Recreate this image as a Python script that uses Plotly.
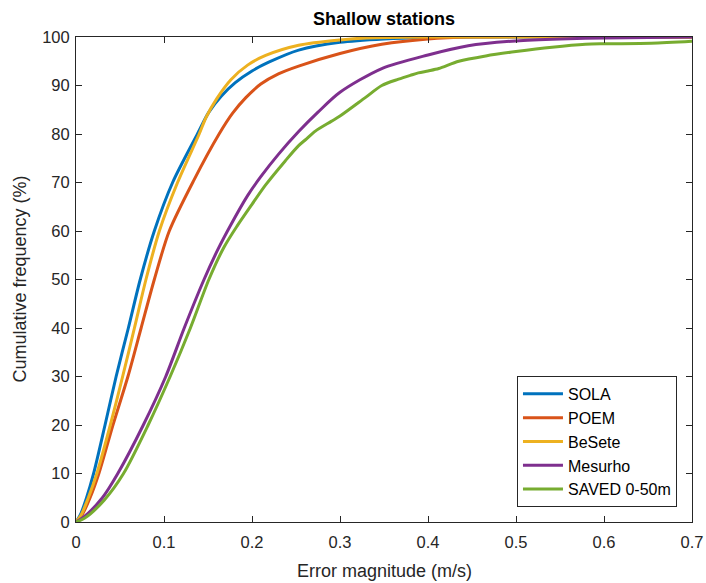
import plotly.graph_objects as go

# ---- data ----
sola_x = [0, 0.005, 0.012, 0.020, 0.033, 0.0456, 0.0595, 0.073, 0.089, 0.1098, 0.138, 0.151,
          0.165, 0.181, 0.200, 0.219, 0.253, 0.300, 0.350, 0.400, 0.500, 0.700]
sola_y = [0, 1.5, 5, 10, 20, 30, 40, 50, 60, 70, 80, 84.5,
          87.8, 90.6, 93.0, 94.8, 97.3, 98.9, 99.6, 99.9, 100, 100]

poem_x = [0, 0.007, 0.016, 0.026, 0.042, 0.059, 0.074, 0.089, 0.106, 0.134, 0.1626,
          0.178, 0.193, 0.210, 0.230, 0.253, 0.300, 0.3475, 0.400, 0.450, 0.700]
poem_y = [0, 1.5, 5, 10, 20, 30, 40, 50, 60, 70.5, 80,
          84.3, 87.5, 90.3, 92.4, 94.0, 96.6, 98.5, 99.6, 100, 100]

besete_x = [0, 0.006, 0.014, 0.0237, 0.039, 0.053, 0.0664, 0.0795, 0.0947, 0.1154, 0.140, 0.148,
            0.160, 0.176, 0.195, 0.2155, 0.253, 0.300, 0.330, 0.400, 0.700]
besete_y = [0, 1.5, 5, 10, 20, 30, 40, 50, 60, 70, 80, 83.5,
            87.3, 91.2, 94.2, 96.2, 98.3, 99.4, 99.8, 100, 100]

mesurho_x = [0, 0.010, 0.030, 0.0475, 0.0765, 0.102, 0.123, 0.1455, 0.1607, 0.176, 0.195,
             0.210, 0.230, 0.253, 0.275, 0.300, 0.3475, 0.400, 0.4457, 0.500, 0.550, 0.600, 0.700]
mesurho_y = [0, 1.2, 5, 10, 20, 30, 40, 50, 56.0, 61.3, 67.3,
             71.2, 75.8, 80.5, 84.5, 88.6, 93.5, 96.3, 98.2, 99.2, 99.6, 99.8, 100]

saved_x = [0, 0.010, 0.032, 0.054, 0.082, 0.107, 0.130, 0.151, 0.168, 0.183, 0.200,
           0.2155, 0.238, 0.253, 0.262, 0.272, 0.290, 0.300, 0.3287, 0.3475, 0.3665, 0.380,
           0.389, 0.400, 0.4123, 0.435, 0.4657, 0.500, 0.541, 0.579, 0.600, 0.6535, 0.700]
saved_y = [0, 0.8, 4.5, 10, 20, 30, 40, 50, 56.6, 61, 65.5,
           69.5, 74.5, 77.6, 79.0, 80.6, 82.6, 83.7, 87.5, 90, 91.3, 92.1,
           92.6, 93, 93.5, 95, 96.1, 97, 97.9, 98.5, 98.6, 98.7, 99.1]

series_names = ["SOLA", "POEM", "BeSete", "Mesurho", "SAVED 0-50m"]
series_x = [sola_x, poem_x, besete_x, mesurho_x, saved_x]
series_y = [sola_y, poem_y, besete_y, mesurho_y, saved_y]
series_colors = ["#0072BD", "#D95319", "#EDB120", "#7E2F8E", "#77AC30"]

x_ticks = [0, 0.1, 0.2, 0.3, 0.4, 0.5, 0.6, 0.7]
x_tick_labels = ["0", "0.1", "0.2", "0.3", "0.4", "0.5", "0.6", "0.7"]
y_ticks = [0, 10, 20, 30, 40, 50, 60, 70, 80, 90, 100]
y_tick_labels = [str(v) for v in y_ticks]

FONT = "Liberation Sans, Arial, sans-serif"
AX = "#262626"

fig = go.Figure()
for name, xs, ys, col in zip(series_names, series_x, series_y, series_colors):
    fig.add_trace(go.Scatter(x=xs, y=ys, mode="lines", name=name,
                             line=dict(color=col, width=3, shape="spline", smoothing=0.8)))

axis_common = dict(showgrid=False, zeroline=False, showline=True, linecolor=AX,
                   linewidth=1, mirror="ticks", ticks="inside", ticklen=6,
                   tickcolor=AX, tickwidth=1, automargin=False,
                   tickfont=dict(family=FONT, size=16.5, color=AX))

fig.update_xaxes(range=[0, 0.7], tickvals=x_ticks, ticktext=x_tick_labels,
                 ticklabelstandoff=5, **axis_common)
fig.update_yaxes(range=[0, 100], tickvals=y_ticks, ticktext=y_tick_labels,
                 ticklabelstandoff=2, **axis_common)

# axis titles placed to match the reference positions
fig.add_annotation(text="Error magnitude (m/s)", xref="paper", yref="paper",
                   x=0.5, y=-(571 - 522) / 485, xanchor="center", yanchor="middle",
                   showarrow=False, font=dict(family=FONT, size=18, color=AX))
fig.add_annotation(text="Cumulative frequency (%)", xref="paper", yref="paper",
                   x=-(76 - 19) / 616, y=0.5, xanchor="center", yanchor="middle",
                   textangle=-90, showarrow=False, font=dict(family=FONT, size=18, color=AX))

fig.update_layout(
    width=706, height=583,
    margin=dict(l=76, r=14, t=37, b=61),
    paper_bgcolor="white", plot_bgcolor="white",
    title=dict(text="<b>Shallow stations</b>", x=384 / 706, xanchor="center",
               y=1 - 19 / 583, yanchor="middle", yref="container",
               font=dict(family=FONT, size=18, color="black")),
    showlegend=True,
    legend=dict(x=0.9756, y=0.031, xanchor="right", yanchor="bottom",
                bgcolor="white", bordercolor=AX, borderwidth=1,
                font=dict(family=FONT, size=16, color="black"),
                tracegroupgap=0, itemwidth=40),
)

fig.write_html("out.html",
               config={"displayModeBar": False},
               post_script="document.body.style.margin='0';document.body.style.overflow='hidden';")
